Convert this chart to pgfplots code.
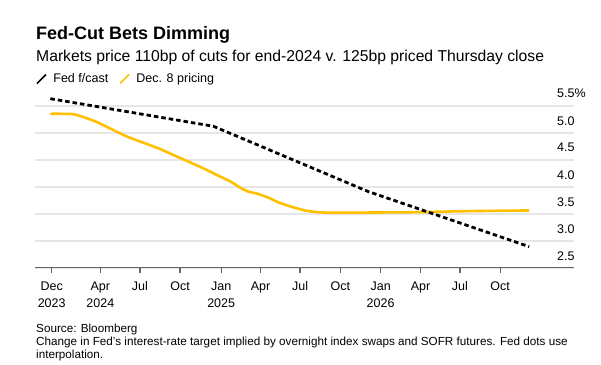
\documentclass[border=0pt]{standalone}
\usepackage{fontspec}
\setmainfont{Liberation Sans}
\usepackage{pgfplots}
\pgfplotsset{compat=1.18}
\definecolor{fedyellow}{HTML}{FFC000}
\definecolor{gridgray}{HTML}{E6E6E6}
\definecolor{axisgray}{HTML}{666666}
\begin{document}
\begin{tikzpicture}[x=1pt,y=1pt]
\useasboundingbox (0pt,0pt) rectangle (601pt,-364pt);
\node[anchor=base west, inner sep=0pt, font=\fontsize{18}{22}\selectfont\bfseries] at (36pt,-39.3pt) {Fed-Cut Bets Dimming};
\node[anchor=base west, inner sep=0pt, font=\fontsize{15.7}{18}\selectfont] at (36pt,-61pt) {Markets price 110bp of cuts for end-2024 v. 125bp priced Thursday close};
\begin{axis}[
 at={(35pt,-267.7pt)}, anchor=south west,
 scale only axis, width=539pt, height=175.5pt,
 xmin=-1.266, xmax=39.6, ymin=2.5, ymax=5.75,
 axis x line*=bottom, axis y line*=right,
 y axis line style={draw=none},
 x axis line style={draw=axisgray, line width=1.2pt, -},
 ytick={2.5,3,3.5,4,4.5,5,5.5},
 yticklabels={2.5,3.0,3.5,4.0,4.5,5.0,5.5\%},
 ymajorgrids, grid style={draw=gridgray, line width=1.6pt},
 major y tick style={draw=none},
 ytick align=inside,
 yticklabel style={anchor=west, inner sep=0pt, xshift=-17pt, yshift=12pt, font=\fontsize{12.5}{15}\selectfont},
 xtick={0,3.69,6.69,9.73,12.85,15.84,18.83,21.89,24.94,27.96,30.95,34.0},
 xticklabels={Dec\\2023, Apr\\2024, Jul, Oct, Jan\\2025, Apr, Jul, Oct, Jan\\2026, Apr, Jul, Oct},
 xticklabel style={anchor=north, inner sep=0pt, yshift=-9pt, align=center, font=\fontsize{12.5}{16.5}\selectfont},
 major x tick style={draw=axisgray, line width=1.2pt},
 xtick align=outside, major tick length=5pt,
 clip=false,
 legend columns=2,
 reverse legend,
 legend style={at={(0.00186,1.0752)}, anchor=west, draw=none, fill=none, inner sep=0pt,
   font=\fontsize{12.5}{15}\selectfont,
   /tikz/every even column/.append style={column sep=9pt}},
 legend image code/.code={\draw[#1, solid, line width=1.6pt] (0pt,-4.5pt) -- (9pt,4.5pt); \path (13pt,0pt);},
]
\addplot[fedyellow, line width=2.6pt, smooth, tension=0.4] coordinates {
(-0.1,5.35) (0.8,5.35) (1.6,5.345) (2.4,5.29) (3.4,5.20) (4.5,5.07) (5.7,4.93)
(7.0,4.81) (8.2,4.70) (9.2,4.59) (10.5,4.45) (11.5,4.34) (12.5,4.22) (13.6,4.09)
(14.3,3.98) (14.9,3.91) (15.6,3.87) (16.4,3.80) (17.3,3.70) (18.3,3.62) (19.2,3.56)
(19.9,3.535) (20.9,3.52) (23,3.52) (26,3.525) (28,3.53) (31,3.545) (34,3.555) (36.2,3.56)
};
\addlegendentry{Dec. 8 pricing}
\addplot[black, line width=2.8pt, dash pattern=on 4.5pt off 3pt] coordinates {
(-0.1,5.63) (12.25,5.12) (24,3.91) (36.2,2.89)
};
\addlegendentry{Fed f/cast}
\end{axis}
\node[anchor=base west, inner sep=0pt, font=\fontsize{11.7}{13.5}\selectfont] at (36pt,-332.5pt) {Source: Bloomberg};
\node[anchor=base west, inner sep=0pt, font=\fontsize{11.7}{13.5}\selectfont] at (36pt,-345.5pt) {Change in Fed's interest-rate target implied by overnight index swaps and SOFR futures. Fed dots use};
\node[anchor=base west, inner sep=0pt, font=\fontsize{11.7}{13.5}\selectfont] at (36pt,-358.5pt) {interpolation.};
\end{tikzpicture}
\end{document}
